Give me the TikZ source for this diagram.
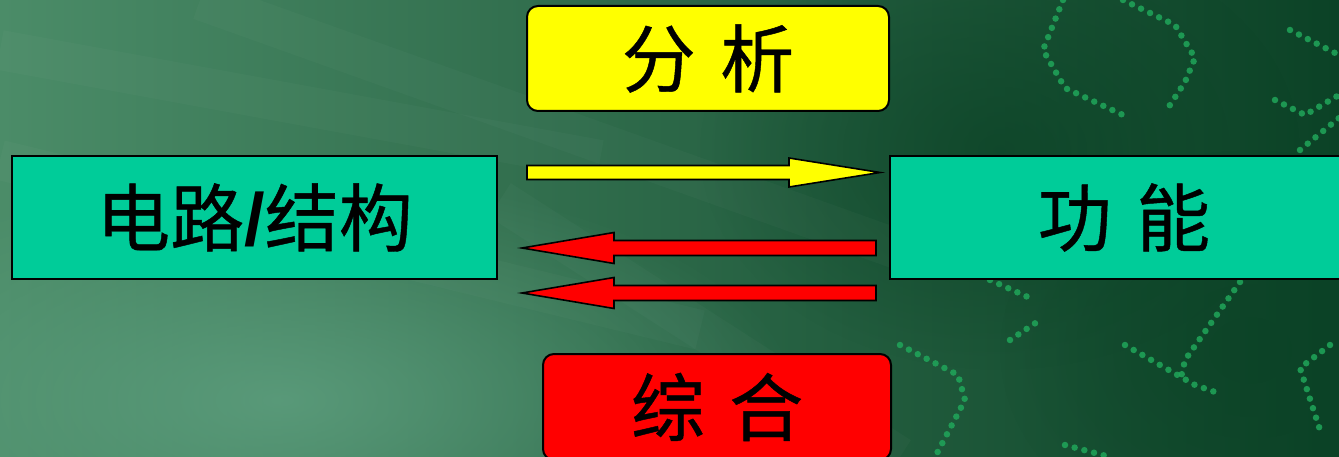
\documentclass[tikz,border=0pt]{standalone}
\usepackage{fontspec}
\newfontfamily\cjk[FakeBold=0.6]{Noto Sans CJK SC}
\newfontfamily\lsans{Liberation Sans}
\usetikzlibrary{fadings}
\definecolor{bgL}{HTML}{4B8C68}
\definecolor{bgM}{HTML}{2C6C47}
\definecolor{bgR}{HTML}{0B4226}
\definecolor{lightgr}{HTML}{62A383}
\definecolor{dotgr}{HTML}{20A65A}
\definecolor{tealbox}{HTML}{00CC99}
\definecolor{ybox}{HTML}{FFFF00}
\definecolor{rbox}{HTML}{FF0000}
\tikzfading[name=blob, inner color=transparent!0, outer color=transparent!100]
\tikzset{
  lbl/.style={font=\cjk\fontsize{74}{80}\selectfont, text=black, inner sep=0pt},
  sqbox/.style={lbl, draw=black, line width=2pt, fill=tealbox, rectangle},
  rndbox/.style={lbl, draw=black, line width=2pt, rectangle, rounded corners=11pt},
  barrow/.style={draw=black, line width=1.6pt, line join=miter},
  trace/.style={dotgr, line width=6.5pt, line cap=round, dash pattern=on 0pt off 10pt, opacity=0.85},
}
\begin{document}
\begin{tikzpicture}[x=1pt,y=-1pt]
\useasboundingbox (0,0) rectangle (1339,457);
\clip (0,0) rectangle (1339,457);
% background
\fill[left color=bgL, middle color=bgM, right color=bgR] (0,0) rectangle (1339,457);
\fill[lightgr, path fading=blob, opacity=0.75] (280,400) ellipse (520pt and 230pt);
\fill[bgR, path fading=blob, opacity=0.7] (1000,150) ellipse (300pt and 220pt);
\fill[bgR, path fading=blob, opacity=0.6] (1250,350) ellipse (250pt and 200pt);
\foreach \a/\b/\c/\d in {0/50/600/160, 0/160/700/330, 200/0/900/250, 500/200/900/457}
  \draw[white, opacity=0.025, line width=40pt] (\a,\b) -- (\c,\d);
% circuit traces
\draw[trace] (1063,0) -- (1043,50) -- (1065,88) -- (1123,115);
\draw[trace] (1123,0) -- (1175,25) -- (1195,58) -- (1185,82) -- (1168,108);
\draw[trace] (1275,100) -- (1305,115) -- (1339,95);
\draw[trace] (1300,150) -- (1339,118);
\draw[trace] (1290,30) -- (1339,55);
\draw[trace] (900,345) -- (958,375) -- (965,400) -- (935,457);
\draw[trace] (990,280) -- (1030,298);
\draw[trace] (1125,345) -- (1195,385) -- (1215,392);
\draw[trace] (1240,282) -- (1185,360) -- (1180,382);
\draw[trace] (1330,345) -- (1300,368) -- (1320,430);
\draw[trace] (1065,445) -- (1110,457);
\draw[trace] (1010,340) -- (1040,320);
% boxes
\node[sqbox, minimum width=485pt, minimum height=122pt] (circuit) at (254.5,217.5)
  {电路{\lsans\bfseries /}结构};
\node[sqbox, minimum width=468pt, minimum height=122pt] (func) at (1124,217.5)
  {功\hspace{0.33em}能};
\node[rndbox, fill=ybox, minimum width=362pt, minimum height=105pt] (ana) at (708,58.5)
  {分\hspace{0.33em}析};
\node[rndbox, fill=rbox, minimum width=348pt, minimum height=106pt] (syn) at (717,407)
  {综\hspace{0.33em}合};
% block arrows
\coordinate (yt) at (880,172.5);
\coordinate (r1t) at (522,248);
\coordinate (r2t) at (522,293);
\draw[barrow, fill=ybox] (527,165.5) -- (789,165.5) -- (789,158) -- (yt) -- (789,187) -- (789,179.5) -- (527,179.5) -- cycle;
\draw[barrow, fill=rbox] (876,240.5) -- (614,240.5) -- (614,232.5) -- (r1t) -- (614,263.5) -- (614,255.5) -- (876,255.5) -- cycle;
\draw[barrow, fill=rbox] (876,285.5) -- (614,285.5) -- (614,277.5) -- (r2t) -- (614,308.5) -- (614,300.5) -- (876,300.5) -- cycle;
\end{tikzpicture}
\end{document}
